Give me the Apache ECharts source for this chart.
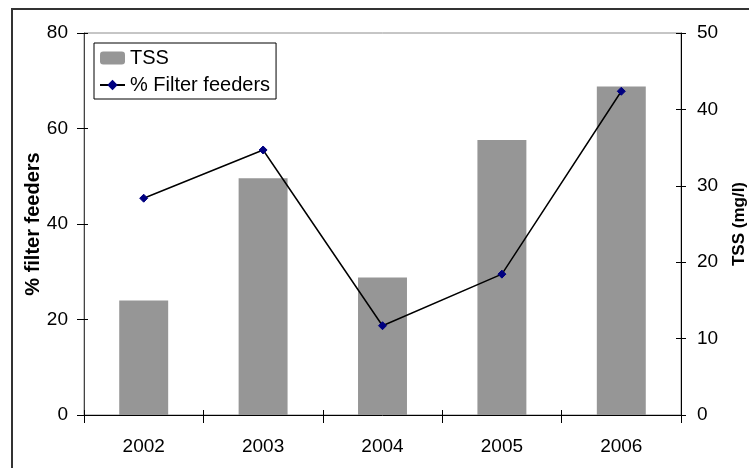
<!DOCTYPE html>
<html>
<head>
<meta charset="utf-8">
<script src="https://cdn.jsdelivr.net/npm/echarts@6/dist/echarts.min.js"></script>
<style>
  html, body { margin: 0; padding: 0; background: #fff; }
  #chart { width: 749px; height: 468px; }
</style>
</head>
<body>
<div id="chart"></div>
<script>
// Yearly totals: suspended solids (bars, right axis) and share of filter feeders (line, left axis)
const years = ['2002', '2003', '2004', '2005', '2006'];
const tssValues = [15, 31, 18, 36, 43];
const filterFeederValues = [45.4, 55.5, 18.7, 29.5, 67.8];

const FONT = "'Liberation Sans', Arial, sans-serif";
const chart = echarts.init(document.getElementById('chart'), null, { renderer: 'canvas' });

const tickLabel = { color: '#000', fontFamily: FONT, fontSize: 19 };

chart.setOption({
  animation: false,
  backgroundColor: '#fff',
  graphic: [{
    type: 'rect',
    shape: { x: 12, y: 9, width: 800, height: 600 },
    style: { fill: 'none', stroke: '#333', lineWidth: 2 },
    z: 0
  }],
  grid: {
    left: 84, right: 68, top: 33, bottom: 53,
    outerBoundsMode: 'none',
    containLabel: false,
    show: true, borderColor: '#8c8c8c', borderWidth: 1
  },
  legend: {
    orient: 'vertical',
    left: 94, top: 43,
    backgroundColor: '#fff',
    borderColor: '#000', borderWidth: 1,
    padding: [5, 6, 4, 5],
    itemWidth: 25, itemHeight: 13, itemGap: 7,
    textStyle: { color: '#000', fontFamily: FONT, fontSize: 20 },
    data: ['TSS', '% Filter feeders']
  },
  xAxis: [{
    type: 'category',
    data: years,
    axisLine: { lineStyle: { color: '#000', width: 1 } },
    axisTick: { show: true, length: 8, lineStyle: { color: '#000' } },
    axisLabel: Object.assign({ margin: 22 }, tickLabel),
    splitLine: { show: false }
  }, {
    // inner half of the crossing category ticks
    type: 'category',
    data: years,
    position: 'bottom',
    axisLine: { show: false },
    axisTick: { show: true, inside: true, length: 5, lineStyle: { color: '#000' } },
    axisLabel: { show: false },
    splitLine: { show: false }
  }],
  yAxis: [{
    type: 'value',
    position: 'left',
    min: 0, max: 80, interval: 20,
    name: '% filter feeders',
    nameLocation: 'middle',
    nameRotate: 90,
    nameGap: 41,
    nameMoveOverlap: false,
    nameTextStyle: { color: '#000', fontFamily: FONT, fontSize: 20, fontWeight: 'bold' },
    axisLine: { show: true, lineStyle: { color: '#444', width: 1 } },
    axisTick: { show: true, length: 7, lineStyle: { color: '#000' } },
    axisLabel: Object.assign({ margin: 16 }, tickLabel),
    splitLine: { show: false }
  }, {
    type: 'value',
    position: 'right',
    min: 0, max: 50, interval: 10,
    name: 'TSS (mg/l)',
    nameLocation: 'middle',
    nameRotate: 90,
    nameGap: 50,
    nameMoveOverlap: false,
    nameTextStyle: { color: '#000', fontFamily: FONT, fontSize: 17, fontWeight: 'bold' },
    axisLine: { show: true, lineStyle: { color: '#000', width: 1 } },
    axisTick: { show: true, length: 5, lineStyle: { color: '#000' } },
    axisLabel: Object.assign({ margin: 16 }, tickLabel),
    splitLine: { show: false }
  }, {
    // inner half of the crossing ticks on the left axis
    type: 'value',
    position: 'left',
    min: 0, max: 80, interval: 20,
    axisLine: { show: false },
    axisTick: { show: true, inside: true, length: 4, lineStyle: { color: '#000' } },
    axisLabel: { show: false },
    splitLine: { show: false }
  }, {
    // inner half of the crossing ticks on the right axis
    type: 'value',
    position: 'right',
    min: 0, max: 50, interval: 10,
    axisLine: { show: false },
    axisTick: { show: true, inside: true, length: 5, lineStyle: { color: '#000' } },
    axisLabel: { show: false },
    splitLine: { show: false }
  }],
  series: [{
    name: 'TSS',
    type: 'bar',
    xAxisIndex: 0,
    yAxisIndex: 1,
    data: tssValues,
    barCategoryGap: '59%',
    itemStyle: { color: '#969696' },
    z: 2
  }, {
    name: '% Filter feeders',
    type: 'line',
    xAxisIndex: 0,
    yAxisIndex: 0,
    data: filterFeederValues,
    symbol: 'diamond',
    symbolSize: 8,
    lineStyle: { color: '#000', width: 1.5 },
    itemStyle: { color: '#000080', borderColor: '#000080' },
    z: 3
  }]
});
</script>
</body>
</html>
